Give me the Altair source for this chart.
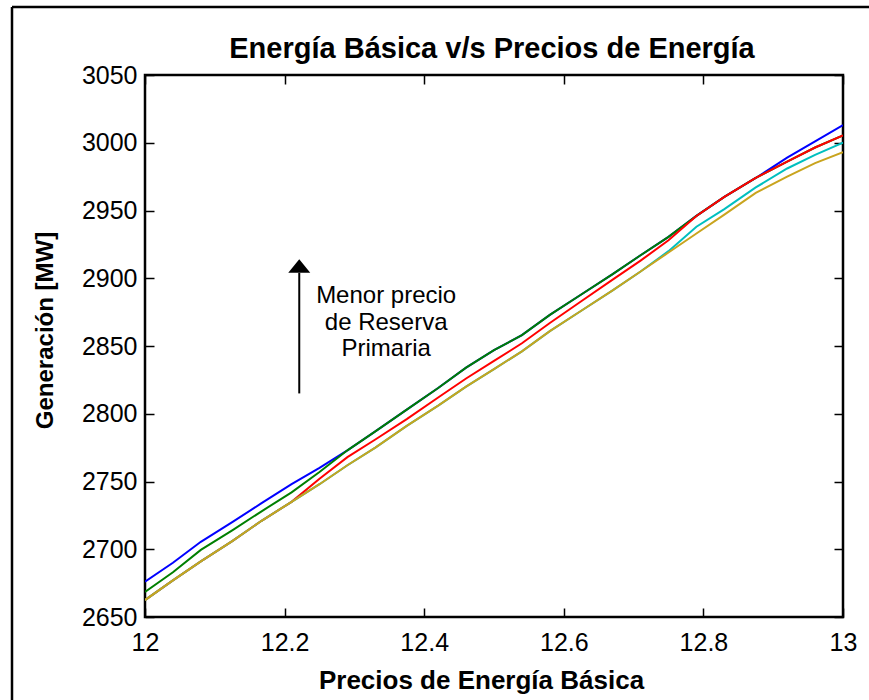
import altair as alt
import pandas as pd

# ---------------- data ----------------
x_vals = [12.0, 12.04, 12.08, 12.125, 12.167, 12.21, 12.25, 12.29, 12.33, 12.375,
          12.42, 12.46, 12.5, 12.54, 12.58, 12.625, 12.67, 12.71, 12.75, 12.79,
          12.83, 12.875, 12.92, 12.96, 13.0]

blue = [2676, 2690, 2705.5, 2720, 2734, 2748, 2760, 2773, 2787, 2803,
        2819, 2834, 2847, 2858, 2873, 2888, 2903, 2917, 2930.5, 2946,
        2960, 2974, 2989, 3001, 3013]
green = [2668.5, 2683, 2699.5, 2714, 2728, 2742, 2757, 2773, 2787, 2803,
         2819, 2834, 2847, 2858, 2873, 2888, 2903, 2917, 2930.5, 2946,
         2960, 2974, 2986, 2996.5, 3005.5]
red = [2662.5, 2677, 2691, 2706, 2721, 2735, 2752, 2768, 2781, 2796,
       2812, 2826, 2839, 2852, 2867, 2883, 2899, 2913, 2928, 2946,
       2960, 2974, 2986, 2996.5, 3005.5]
cyan = [2662.5, 2677, 2691, 2706, 2721, 2735, 2748, 2762, 2775, 2791,
        2806, 2820, 2833, 2846, 2861, 2876, 2891, 2905, 2920, 2938,
        2951, 2967, 2981, 2991, 3000]
gold = [2662.5, 2677, 2691, 2706, 2721, 2735, 2748, 2762, 2775, 2791,
        2806, 2820, 2833, 2846, 2861, 2876, 2891, 2905, 2919, 2933,
        2947, 2963, 2975, 2985, 2993]

series = [blue, green, red, cyan, gold]
colors = ["#0000FF", "#007F00", "#FF0000", "#00BFBF", "#C9A41E"]

x_ticks = [12, 12.2, 12.4, 12.6, 12.8, 13]
y_ticks = [2650, 2700, 2750, 2800, 2850, 2900, 2950, 3000, 3050]

note_lines = ["Menor precio", "de Reserva", "Primaria"]
note_x = [12.3455, 12.3455, 12.3455]
note_y = [2887, 2867, 2848]

arrow_x = [12.221]
arrow_y_start = [2815]
arrow_y_end = [2904]
arrow_head_y = [2909]

title_text = ["Energía Básica v/s Precios de Energía"]
x_title = "Precios de Energía Básica"
y_title = "Generación [MW]"

# ---------------- styling ----------------
FONT = "Liberation Sans"
W, H = 698, 542
TICK = 9

xscale = alt.Scale(domain=[12, 13], nice=False, zero=False)
yscale = alt.Scale(domain=[2650, 3050], nice=False, zero=False)

x_axis_bottom = alt.Axis(
    orient="bottom", values=x_ticks, format="~g", offset=-TICK, tickSize=TICK,
    tickWidth=1.5, tickColor="black", domain=False, grid=False,
    labelFont=FONT, labelFontSize=25, labelColor="black", labelPadding=13,
    labelFlush=False, labelOverlap=False,
    title=x_title, titleFont=FONT, titleFontSize=26, titleFontWeight="bold",
    titleColor="black", titlePadding=12, titleX=336, titleAlign="center",
)
y_axis_left = alt.Axis(
    orient="left", values=y_ticks, format="d", offset=-TICK, tickSize=TICK,
    tickWidth=1.5, tickColor="black", domain=False, grid=False,
    labelFont=FONT, labelFontSize=25, labelColor="black", labelPadding=8,
    labelFlush=False, labelOverlap=False,
    title=y_title, titleFont=FONT, titleFontSize=24, titleFontWeight="bold",
    titleColor="black", titlePadding=24, titleY=255, titleAlign="center",
)
x_axis_top = alt.Axis(
    orient="top", values=x_ticks, offset=-TICK, tickSize=TICK, tickWidth=1.5,
    tickColor="black", domain=False, grid=False, labels=False, title=None,
)
y_axis_right = alt.Axis(
    orient="right", values=y_ticks, offset=-TICK, tickSize=TICK, tickWidth=1.5,
    tickColor="black", domain=False, grid=False, labels=False, title=None,
)

layers = []
for i, (vals, col) in enumerate(zip(series, colors)):
    df = pd.DataFrame({"x": x_vals, "y": vals})
    layers.append(
        alt.Chart(df).mark_line(color=col, strokeWidth=2, clip=True).encode(
            x=alt.X("x:Q", scale=xscale, axis=x_axis_bottom if i == 0 else None),
            y=alt.Y("y:Q", scale=yscale, axis=y_axis_left if i == 0 else None),
        )
    )

arrow_df = pd.DataFrame({"x": arrow_x, "y": arrow_y_start, "y2": arrow_y_end,
                         "yh": arrow_head_y})
shaft = alt.Chart(arrow_df).mark_rule(color="black", strokeWidth=2).encode(
    x=alt.X("x:Q", scale=xscale, axis=x_axis_top),
    y=alt.Y("y:Q", scale=yscale, axis=y_axis_right),
    y2="y2:Q",
)
head = alt.Chart(arrow_df).mark_point(
    shape="M-1,0.61L1,0.61L0,-0.61Z", size=484, filled=True, color="black",
    opacity=1, strokeWidth=0,
).encode(
    x=alt.X("x:Q", scale=xscale, axis=None),
    y=alt.Y("yh:Q", scale=yscale, axis=None),
)

note_df = pd.DataFrame({"t": note_lines, "x": note_x, "y": note_y})
note = alt.Chart(note_df).mark_text(
    font=FONT, fontSize=24, color="black", align="center", baseline="middle"
).encode(
    x=alt.X("x:Q", scale=xscale, axis=None),
    y=alt.Y("y:Q", scale=yscale, axis=None),
    text="t:N",
)

title_df = pd.DataFrame({"t": title_text})
title = alt.Chart(title_df).mark_text(
    font=FONT, fontSize=29, fontWeight="bold", color="black", align="center",
    baseline="alphabetic",
).encode(x=alt.value(W / 2 - 2), y=alt.value(-17), text="t:N")

frame_df = pd.DataFrame({"k": [0]})
outer_top = alt.Chart(frame_df).mark_rule(color="black", strokeWidth=2.5).encode(
    x=alt.value(12 - 145), x2=alt.value(869), y=alt.value(7 - 75)
)
outer_left = alt.Chart(frame_df).mark_rule(color="black", strokeWidth=2.5).encode(
    x=alt.value(12 - 145), y=alt.value(7 - 75), y2=alt.value(700)
)

chart = alt.layer(*layers, shaft, head, note, title, outer_top, outer_left).resolve_axis(
    x="independent", y="independent"
).properties(
    width=W, height=H,
    autosize=alt.AutoSizeParams(type="none"),
    padding={"left": 145, "top": 75, "right": 26, "bottom": 83},
    background="white",
).configure_view(stroke="black", strokeWidth=2.5)

chart.save("out.html", embed_options={"renderer": "svg", "actions": False})
